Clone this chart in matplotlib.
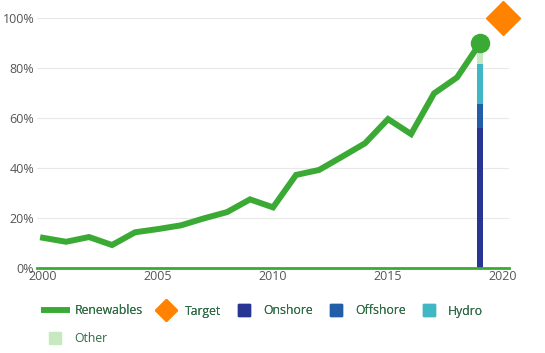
import matplotlib
matplotlib.use('Agg')
from matplotlib import pyplot as plt
from matplotlib.lines import Line2D

plt.rcParams['font.family'] = ['Open Sans', 'DejaVu Sans']

# datos
anios = list(range(2000, 2020))
renovables = [12.0, 10.4, 12.3, 9.1, 14.2, 15.5, 17.0, 19.8, 22.3, 27.4,
              24.2, 37.2, 39.2, 44.5, 49.9, 59.6, 53.6, 69.9, 76.3, 90.0]
anio_obj = 2020
objetivo = 100.0
anio_barra = 2019
fuentes = ['Onshore', 'Offshore', 'Hydro', 'Other']
valores_fuentes = [56.1, 9.5, 16.1, 8.3]
colores_fuentes = ['#283593', '#225ea8', '#41b6c4', '#c7e9c0']

verde = '#3aaa35'
naranja = '#ff8200'
texto_leyenda = '#2f6b45'

fig = plt.figure(figsize=(5.45, 3.53), dpi=100)
ax = fig.add_axes([0.068, 0.2416, 0.866, 0.7065])

# barra apilada del último año
base = 0
for nombre, v, c in zip(fuentes, valores_fuentes, colores_fuentes):
    ax.bar(anio_barra, v, bottom=base, width=0.24, color=c, zorder=2)
    base += v

ax.plot(anios, renovables, color=verde, lw=4.3, zorder=3, solid_joinstyle='miter')
ax.plot(anios[-1], renovables[-1], 'o', color=verde, ms=13, zorder=4, clip_on=False)
ax.plot(anio_obj, objetivo, 'D', color=naranja, ms=17, zorder=4, clip_on=False)

ax.set_xlim(1999.74, 2020.26)
ax.set_ylim(0, 100)
ax.set_xticks([2000, 2005, 2010, 2015, 2020])
ax.set_yticks([0, 20, 40, 60, 80, 100])
ax.set_yticklabels([f'{v}%' for v in range(0, 101, 20)])
ax.tick_params(length=0, labelsize=9, labelcolor='#555555')
ax.tick_params(axis='x', pad=2)
ax.tick_params(axis='y', pad=2)
ax.grid(axis='y', color='#e8e8e8', lw=0.8)
ax.set_axisbelow(True)
for lado in ['top', 'right', 'left']:
    ax.spines[lado].set_visible(False)
ax.spines['bottom'].set_color(verde)
ax.spines['bottom'].set_linewidth(2)

# leyenda en dos filas
opciones = dict(frameon=False, fontsize=8.8, labelcolor=texto_leyenda,
                handlelength=2.35, handletextpad=0.4, borderpad=0, borderaxespad=0)
h1 = [Line2D([], [], color=verde, lw=4, solid_capstyle='butt'),
      Line2D([], [], marker='D', color=naranja, ls='none', ms=11)]
h1 += [Line2D([], [], marker='s', color=c, ls='none', ms=9) for c in colores_fuentes[:3]]
l1 = fig.legend(h1, ['Renewables', 'Target'] + fuentes[:3], ncol=5,
                loc='center left', bbox_to_anchor=(41 / 545, 1 - 311 / 353),
                columnspacing=0.7, **opciones)
l2 = fig.legend([Line2D([], [], marker='s', color=colores_fuentes[3], ls='none', ms=9)],
                [fuentes[3]], loc='center left',
                bbox_to_anchor=(41 / 545, 1 - 339 / 353), **opciones)
fig.add_artist(l1)

fig.savefig('out.png', dpi=100)
